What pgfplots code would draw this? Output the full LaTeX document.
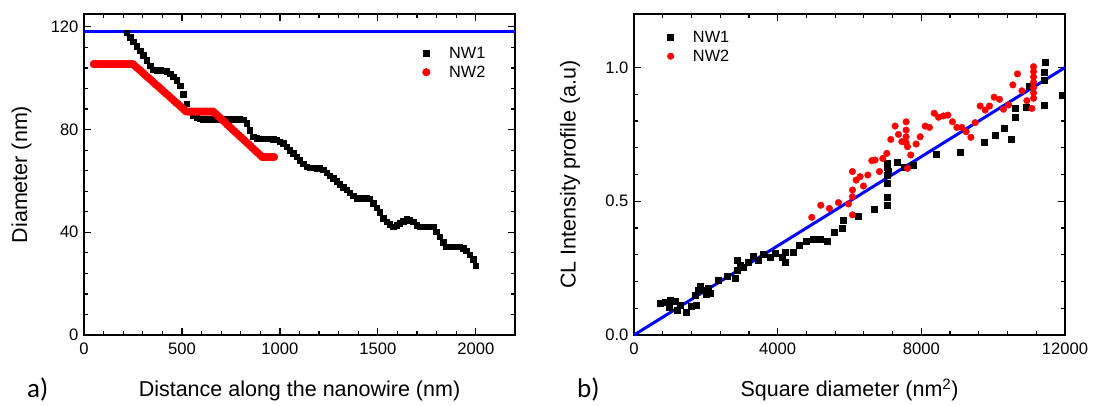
\documentclass[border=0pt]{standalone}
\usepackage{pgfplots}
\pgfplotsset{compat=1.18}
\usepackage{fontspec}
\setmainfont{Liberation Sans}
\newfontfamily\carlito{Carlito}
\newcommand\tickfont{\fontsize{16.6}{19}\selectfont}
\newcommand\labfont{\fontsize{21.5}{25}\selectfont}
\newcommand\legfont{\fontsize{16.3}{19}\selectfont}
\pgfplotsset{
  myaxis/.style={
    scale only axis, width=431pt, height=321pt,
    anchor=south west, clip=false,
    axis line style={line width=1.6pt},
    every tick/.style={black, line width=1.2pt},
    major tick length=7pt, minor tick length=4pt,
    tick align=inside,
    /pgf/number format/assume math mode=true,
    /pgf/number format/1000 sep={},
    scaled ticks=false,
    tick label style={font=\tickfont},
    xticklabel style={yshift=-4pt},
    yticklabel style={xshift=-2pt},
    label style={font=\labfont},
    legend style={draw=none, fill=none, font=\legfont, row sep=2pt,
      /tikz/every odd column/.append style={column sep=17pt}},
    legend cell align=left,
  }
}
\begin{document}
\begin{tikzpicture}
\useasboundingbox (0,0) rectangle (1094pt,405pt);
% ---------------- panel a
\begin{axis}[myaxis, at={(84pt,70pt)},
  xmin=0, xmax=2200, ymin=0, ymax=125,
  xtick={0,500,1000,1500,2000}, ytick={0,40,80,120},
  minor x tick num=4, minor y tick num=4,
  xlabel={Distance along the nanowire (nm)},
  ylabel={Diameter (nm)},
  xlabel style={at={(axis description cs:0.5,-0.192)}, anchor=base},
  ylabel style={at={(axis description cs:-0.1318,0.5)}, anchor=base},
  legend style={at={(axis description cs:0.778,0.910)}, anchor=north west},
]
\addplot[only marks, mark=square*, mark size=2.75pt, color=black] coordinates {
(218,117.7) (235,116.0) (252,114.2) (269,112.5) (286,110.7) (303,108.9) (320,107.1) (337,104.8) (354,103.3) (371,103.2) (388,103.2) (405,103.0) (422,102.8) (439,101.8) (456,100.5) (473,99.3) (490,97.0) (507,93.8) (524,90.0) (541,87.2) (558,85.6) (575,84.6) (592,84.2) (609,84.0) (626,84.0) (643,84.0) (660,84.0) (677,84.0) (694,84.0) (711,84.0) (728,84.0) (745,84.0) (762,84.0) (779,84.0) (796,84.0) (813,83.8) (830,82.4) (847,79.8) (864,77.2) (881,76.6) (898,76.5) (915,76.5) (932,76.5) (949,76.5) (966,76.3) (983,76.0) (1000,75.3) (1017,74.6) (1034,73.3) (1051,72.0) (1068,70.7) (1085,69.4) (1102,68.1) (1119,66.8) (1136,65.5) (1153,65.2) (1170,65.1) (1187,65.0) (1204,64.9) (1221,64.4) (1238,63.2) (1255,62.1) (1272,61.0) (1289,59.9) (1306,58.7) (1323,57.6) (1340,56.5) (1357,55.4) (1374,54.3) (1391,53.2) (1408,53.2) (1425,53.2) (1442,53.2) (1459,53.0) (1476,51.3) (1493,49.5) (1510,47.8) (1527,45.4) (1544,44.2) (1561,43.2) (1578,42.2) (1595,42.8) (1612,43.5) (1629,44.4) (1646,45.2) (1663,44.8) (1680,44.1) (1697,42.8) (1714,42.2) (1731,42.2) (1748,42.2) (1765,42.2) (1782,42.2) (1799,40.3) (1816,38.3) (1833,36.2) (1850,34.4) (1867,34.4) (1884,34.4) (1901,34.4) (1918,34.4) (1935,33.8) (1952,32.8) (1969,31.2) (1986,29.5) (2000,27.0)
};
\addlegendentry{NW1}
\addplot[only marks, mark=*, mark size=3.8pt, color=red] coordinates {
(50,105.5) (60,105.5) (70,105.5) (80,105.5) (90,105.5) (100,105.5) (110,105.5) (120,105.5) (130,105.5) (140,105.5) (150,105.5) (160,105.5) (170,105.5) (180,105.5) (190,105.5) (200,105.5) (210,105.5) (220,105.5) (230,105.5) (240,105.5) (250,105.5)
(260,104.8) (270,104.1) (280,103.5) (290,102.8) (300,102.1) (310,101.4) (320,100.7) (330,100.1) (340,99.4) (350,98.7) (360,98.0) (370,97.3) (380,96.7) (390,96.0) (400,95.3) (410,94.6) (420,93.9) (430,93.3) (440,92.6) (450,91.9) (460,91.2) (470,90.5) (480,89.9) (490,89.2) (500,88.5) (510,87.8) (520,87.1)
(530,87.0) (540,87.0) (550,87.0) (560,87.0) (570,87.0) (580,87.0) (590,87.0) (600,87.0) (610,87.0) (620,87.0) (630,87.0) (640,87.0) (650,87.0) (660,87.0)
(670,86.3) (680,85.6) (690,84.9) (700,84.2) (710,83.5) (720,82.8) (730,82.0) (740,81.3) (750,80.6) (760,79.9) (770,79.2) (780,78.5) (790,77.8) (800,77.1) (810,76.4) (820,75.7) (830,75.0) (840,74.3) (850,73.6) (860,72.8) (870,72.1) (880,71.4) (890,70.7) (900,70.0) (910,69.3)
(920,69.3) (930,69.3) (940,69.3) (950,69.3) (960,69.3) (970,69.3)
};
\addlegendentry{NW2}
\addplot[forget plot, color=blue, line width=3pt] coordinates {(0,118) (2200,118)};
\end{axis}
% ---------------- panel b
\begin{axis}[myaxis, at={(634pt,70pt)},
  xmin=0, xmax=12000, ymin=0, ymax=1.2,
  xtick={0,4000,8000,12000}, ytick={0,0.5,1.0},
  minor x tick num=4, minor y tick num=4,
  yticklabel style={/pgf/number format/.cd, fixed, fixed zerofill, precision=1},
  xlabel={Square diameter (nm\textsuperscript{2})},
  ylabel={CL Intensity profile (a.u)},
  xlabel style={at={(axis description cs:0.5,-0.192)}, anchor=base},
  ylabel style={at={(axis description cs:-0.1357,0.5)}, anchor=base},
  legend style={at={(axis description cs:0.07,0.96)}, anchor=north west},
]
\addplot[only marks, mark=square*, mark size=3pt, color=black] coordinates {
(724,0.118) (863,0.121) (1003,0.131) (985,0.103) (1142,0.125) (1189,0.093) (1281,0.112) (1448,0.087) (1606,0.106) (1745,0.112) (1699,0.150) (1792,0.168) (1838,0.181) (1978,0.168) (2070,0.174) (2117,0.158) (2005,0.153) (2349,0.206) (2581,0.221) (2813,0.212) (2860,0.280) (2860,0.243) (2953,0.262) (3045,0.255) (3184,0.274) (3323,0.293) (3462,0.280) (3602,0.303) (3788,0.290) (3928,0.305) (4114,0.290) (4206,0.274) (4206,0.308) (4420,0.308) (4605,0.336) (4791,0.351) (4995,0.358) (5181,0.359) (5367,0.349) (5571,0.384) (5785,0.399) (5831,0.430) (6249,0.445) (6685,0.472) (7038,0.484) (7038,0.515) (7038,0.567) (7038,0.598) (7084,0.611) (7038,0.629) (7038,0.642) (7317,0.647) (7521,0.627) (7780,0.633) (8412,0.677) (9081,0.683) (9758,0.719) (10056,0.748) (10306,0.772) (10493,0.731) (10613,0.816) (10613,0.847) (10919,0.853) (11011,0.931) (11421,0.953) (11421,0.981) (11439,1.019) (11421,0.860) (11930,0.898)
};
\addlegendentry{NW1}
\addplot[only marks, mark=*, mark size=3.3pt, color=red] coordinates {
(4949,0.440) (5200,0.485) (5441,0.473) (5692,0.495) (5970,0.490) (6082,0.517) (6082,0.542) (6082,0.449) (6082,0.611) (6184,0.579) (6295,0.592) (6388,0.557) (6509,0.598) (6621,0.652) (6713,0.654) (6834,0.611) (6927,0.660) (7038,0.679) (7150,0.731) (7270,0.781) (7363,0.750) (7456,0.723) (7576,0.797) (7576,0.766) (7576,0.741) (7576,0.719) (7614,0.704) (7706,0.673) (7614,0.623) (7855,0.714) (7967,0.741) (8106,0.781) (8226,0.776) (8357,0.829) (8477,0.814) (8616,0.819) (8738,0.822) (8867,0.797) (8989,0.776) (9128,0.776) (9248,0.760) (9379,0.739) (9499,0.794) (9638,0.856) (9777,0.841) (9897,0.856) (10028,0.889) (10176,0.881) (10287,0.844) (10426,0.860) (10548,0.935) (10677,0.976) (10800,0.913) (10938,0.876) (11078,0.847) (11124,1.003) (11124,0.985) (11124,0.965) (11124,0.945) (11124,0.925) (11124,0.905) (11124,0.885)
};
\addlegendentry{NW2}
\addplot[forget plot, color=blue, line width=3pt] coordinates {(0,0) (12000,1.0)};
\end{axis}
\node[anchor=base west, inner sep=0pt, font=\carlito\fontsize{27}{30}\selectfont] at (27pt,8pt) {a)};
\node[anchor=base west, inner sep=0pt, font=\carlito\fontsize{27}{30}\selectfont] at (577pt,8pt) {b)};
\end{tikzpicture}
\end{document}
